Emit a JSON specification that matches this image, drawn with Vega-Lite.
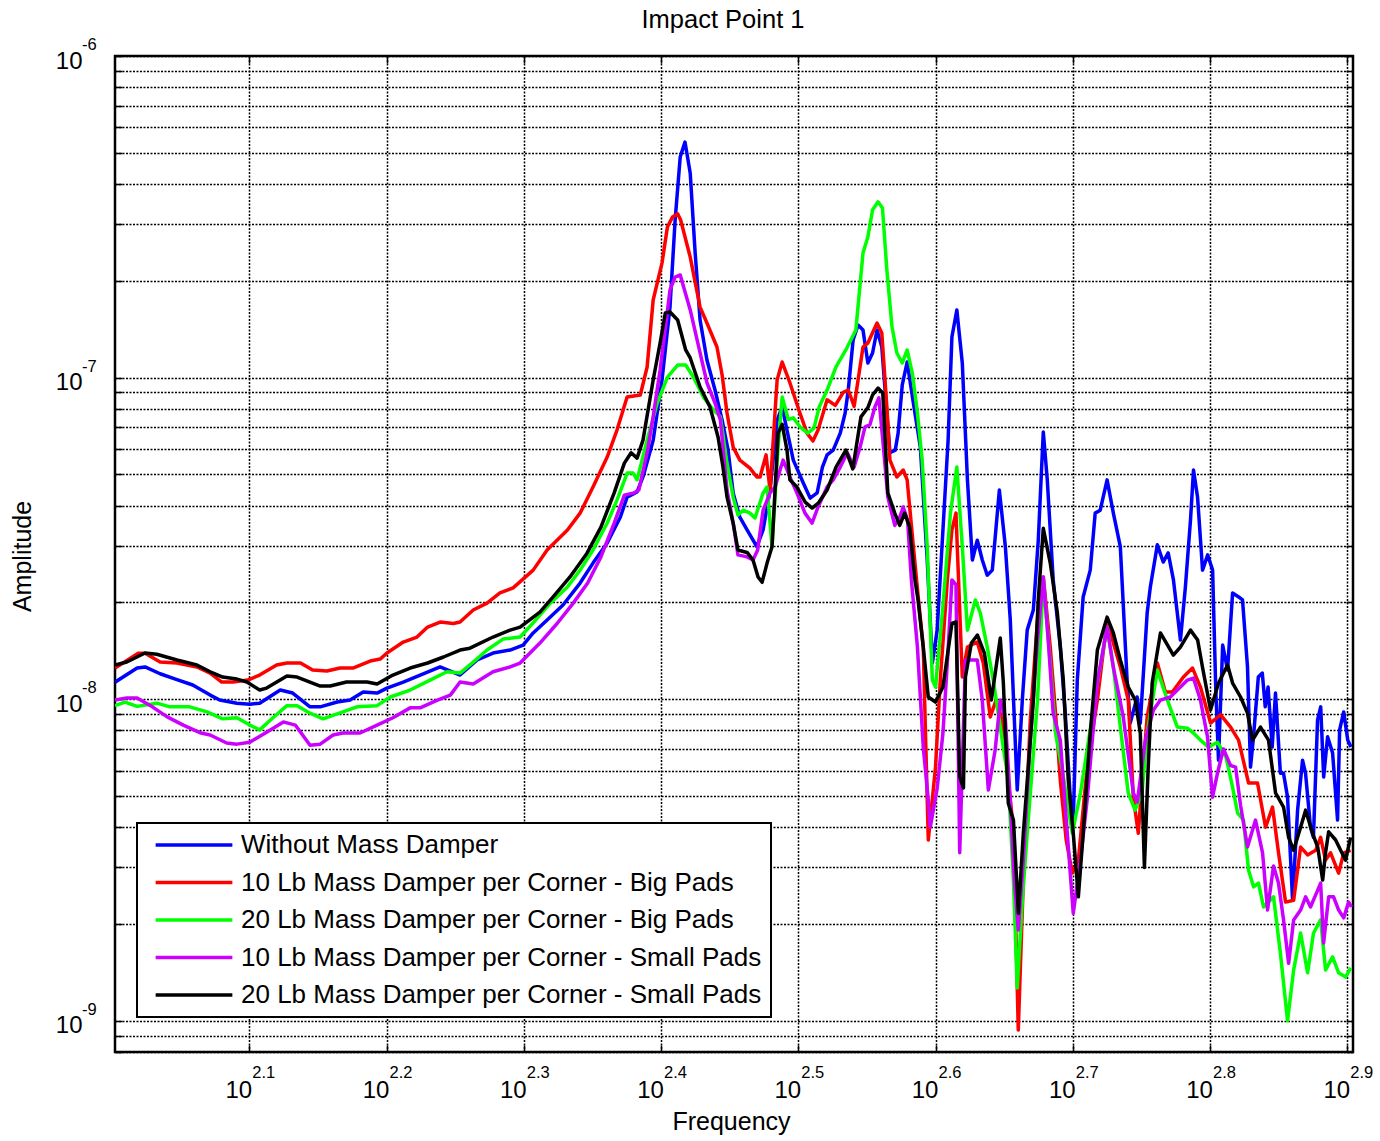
{
"$schema":"https://vega.github.io/schema/vega-lite/v6.json",
"width":1238,"height":996,
"autosize":{"type":"none"},
"padding":{"left":115,"top":56,"right":27,"bottom":89},
"background":"white",
"title":{"text":"Impact Point 1","fontSize":25.5,"font":"Liberation Sans","fontWeight":"normal","color":"black","offset":4,"dx":-11,"frame":"group"},
"config":{"font":"Liberation Sans","view":{"stroke":"black","strokeWidth":2.5},"legend":{"strokeWidth":2}},
"resolve":{"axis":{"x":"independent","y":"independent"}},
"datasets":{
"blue":[{"freq":100.5,"amp":1.13e-8},{"freq":104.3,"amp":1.25e-8},{"freq":105.7,"amp":1.26e-8},{"freq":108.4,"amp":1.2e-8},{"freq":111.5,"amp":1.15e-8},{"freq":114.5,"amp":1.107e-8},{"freq":117.9,"amp":1.03e-8},{"freq":119.8,"amp":9.94e-9},{"freq":123.3,"amp":9.72e-9},{"freq":126,"amp":9.65e-9},{"freq":128.1,"amp":9.72e-9},{"freq":132.6,"amp":1.068e-8},{"freq":135.4,"amp":1.045e-8},{"freq":139.4,"amp":9.47e-9},{"freq":141.8,"amp":9.47e-9},{"freq":145.9,"amp":9.8e-9},{"freq":149.1,"amp":9.94e-9},{"freq":152.4,"amp":1.053e-8},{"freq":156,"amp":1.045e-8},{"freq":158.6,"amp":1.083e-8},{"freq":163,"amp":1.131e-8},{"freq":167.7,"amp":1.189e-8},{"freq":173.4,"amp":1.26e-8},{"freq":179.3,"amp":1.189e-8},{"freq":184.5,"amp":1.324e-8},{"freq":189.5,"amp":1.392e-8},{"freq":195,"amp":1.422e-8},{"freq":199.3,"amp":1.474e-8},{"freq":202.7,"amp":1.607e-8},{"freq":207.5,"amp":1.764e-8},{"freq":213.1,"amp":1.963e-8},{"freq":219.3,"amp":2.297e-8},{"freq":224.1,"amp":2.65e-8},{"freq":229.5,"amp":3.06e-8},{"freq":234.6,"amp":3.68e-8},{"freq":237.3,"amp":4.25e-8},{"freq":241.3,"amp":4.41e-8},{"freq":243.7,"amp":4.91e-8},{"freq":247.9,"amp":6.39e-8},{"freq":251.6,"amp":9.83e-8},{"freq":255,"amp":1.657e-7},{"freq":257.2,"amp":3.09e-7},{"freq":259.4,"amp":4.85e-7},{"freq":261.5,"amp":5.4e-7},{"freq":263.8,"amp":4.32e-7},{"freq":266,"amp":2.44e-7},{"freq":268.2,"amp":1.51e-7},{"freq":271.3,"amp":1.134e-7},{"freq":275,"amp":9.15e-8},{"freq":278.3,"amp":7.38e-8},{"freq":281.1,"amp":5.95e-8},{"freq":283.5,"amp":4.38e-8},{"freq":286.7,"amp":3.68e-8},{"freq":290.2,"amp":3.36e-8},{"freq":295,"amp":2.98e-8},{"freq":298.1,"amp":3.36e-8},{"freq":301.6,"amp":4.47e-8},{"freq":305.2,"amp":7.38e-8},{"freq":307.8,"amp":8.1e-8},{"freq":310.3,"amp":6.87e-8},{"freq":313.6,"amp":5.54e-8},{"freq":318.9,"amp":4.7e-8},{"freq":322.6,"amp":4.22e-8},{"freq":326.4,"amp":4.38e-8},{"freq":329.3,"amp":5.27e-8},{"freq":331.9,"amp":5.75e-8},{"freq":335.3,"amp":5.95e-8},{"freq":339.3,"amp":6.72e-8},{"freq":342.1,"amp":7.76e-8},{"freq":343.9,"amp":9.15e-8},{"freq":346.7,"amp":1.309e-7},{"freq":349.6,"amp":1.457e-7},{"freq":352.5,"amp":1.406e-7},{"freq":355.4,"amp":1.11e-7},{"freq":358.2,"amp":1.193e-7},{"freq":360.9,"amp":1.406e-7},{"freq":363.8,"amp":1.245e-7},{"freq":366.9,"amp":7.76e-8},{"freq":368.8,"amp":5.84e-8},{"freq":372.1,"amp":5.95e-8},{"freq":373.9,"amp":6.72e-8},{"freq":376.5,"amp":9.5e-8},{"freq":379.6,"amp":1.118e-7},{"freq":383.6,"amp":8.33e-8},{"freq":388.1,"amp":6.08e-8},{"freq":392.6,"amp":2.71e-8},{"freq":396,"amp":1.296e-8},{"freq":399.2,"amp":1.64e-8},{"freq":403.1,"amp":3.36e-8},{"freq":406.6,"amp":6.39e-8},{"freq":409.2,"amp":1.338e-7},{"freq":412.6,"amp":1.623e-7},{"freq":416.4,"amp":1.11e-7},{"freq":420,"amp":4.81e-8},{"freq":423.5,"amp":2.71e-8},{"freq":427,"amp":3.12e-8},{"freq":430.6,"amp":2.71e-8},{"freq":434.2,"amp":2.43e-8},{"freq":437.9,"amp":2.52e-8},{"freq":443.1,"amp":4.47e-8},{"freq":447.6,"amp":2.98e-8},{"freq":451.3,"amp":1.764e-8},{"freq":456.6,"amp":5.22e-9},{"freq":460.5,"amp":9.94e-9},{"freq":464.3,"amp":1.64e-8},{"freq":469.1,"amp":1.894e-8},{"freq":473,"amp":3.12e-8},{"freq":477,"amp":6.78e-8},{"freq":480.2,"amp":4.81e-8},{"freq":485,"amp":2.35e-8},{"freq":490.8,"amp":1.453e-8},{"freq":494.9,"amp":9.05e-9},{"freq":499.2,"amp":4.86e-9},{"freq":501.6,"amp":4.21e-9},{"freq":505,"amp":1.147e-8},{"freq":510,"amp":2.08e-8},{"freq":516.1,"amp":2.52e-8},{"freq":520.4,"amp":3.79e-8},{"freq":524.8,"amp":3.87e-8},{"freq":530.9,"amp":4.81e-8},{"freq":536.5,"amp":3.79e-8},{"freq":542.8,"amp":2.98e-8},{"freq":549,"amp":1.147e-8},{"freq":551.9,"amp":8.43e-9},{"freq":558.3,"amp":1.016e-8},{"freq":561.3,"amp":8.43e-9},{"freq":567.8,"amp":1.853e-8},{"freq":570.8,"amp":2.23e-8},{"freq":577.6,"amp":3.02e-8},{"freq":583.3,"amp":2.67e-8},{"freq":588.2,"amp":2.85e-8},{"freq":593.4,"amp":2.35e-8},{"freq":600.4,"amp":1.527e-8},{"freq":605.4,"amp":2.23e-8},{"freq":610.6,"amp":3.6e-8},{"freq":613.7,"amp":5.16e-8},{"freq":617.9,"amp":4.25e-8},{"freq":623.1,"amp":2.52e-8},{"freq":628.5,"amp":2.81e-8},{"freq":633.7,"amp":2.52e-8},{"freq":637,"amp":1.091e-8},{"freq":640,"amp":6.46e-9},{"freq":644.5,"amp":1.474e-8},{"freq":649.8,"amp":1.232e-8},{"freq":655.3,"amp":2.14e-8},{"freq":662,"amp":2.08e-8},{"freq":666.3,"amp":2.035e-8},{"freq":671.9,"amp":1.26e-8},{"freq":675.3,"amp":6.15e-9},{"freq":678.7,"amp":7.64e-9},{"freq":684.2,"amp":1.172e-8},{"freq":688.8,"amp":1.206e-8},{"freq":692.2,"amp":9.47e-9},{"freq":695.5,"amp":1.091e-8},{"freq":700.3,"amp":7.1e-9},{"freq":704.2,"amp":1.045e-8},{"freq":710,"amp":5.89e-9},{"freq":713.7,"amp":5.89e-9},{"freq":718.6,"amp":4.96e-9},{"freq":724.7,"amp":2.37e-9},{"freq":730.8,"amp":4.52e-9},{"freq":736.9,"amp":6.46e-9},{"freq":740.6,"amp":5.89e-9},{"freq":746.8,"amp":4e-9},{"freq":750.5,"amp":3.72e-9},{"freq":755.7,"amp":8.63e-9},{"freq":759.7,"amp":9.47e-9},{"freq":763.5,"amp":5.73e-9},{"freq":768.5,"amp":7.64e-9},{"freq":775,"amp":6.81e-9},{"freq":781.5,"amp":4.21e-9},{"freq":784.2,"amp":8.03e-9},{"freq":789.6,"amp":9.13e-9},{"freq":795,"amp":7.46e-9},{"freq":799.2,"amp":7.1e-9}],
"red":[{"freq":100.5,"amp":1.25e-8},{"freq":104.5,"amp":1.39e-8},{"freq":105.7,"amp":1.39e-8},{"freq":108.4,"amp":1.305e-8},{"freq":111.5,"amp":1.296e-8},{"freq":115.3,"amp":1.26e-8},{"freq":117.9,"amp":1.206e-8},{"freq":120.2,"amp":1.131e-8},{"freq":122.5,"amp":1.131e-8},{"freq":125.6,"amp":1.147e-8},{"freq":128.1,"amp":1.189e-8},{"freq":131.8,"amp":1.277e-8},{"freq":134.1,"amp":1.296e-8},{"freq":137.2,"amp":1.296e-8},{"freq":140,"amp":1.232e-8},{"freq":143.4,"amp":1.224e-8},{"freq":146.6,"amp":1.25e-8},{"freq":149.8,"amp":1.25e-8},{"freq":154.2,"amp":1.314e-8},{"freq":156.8,"amp":1.333e-8},{"freq":158.6,"amp":1.392e-8},{"freq":163,"amp":1.506e-8},{"freq":166.8,"amp":1.561e-8},{"freq":169.8,"amp":1.676e-8},{"freq":173.4,"amp":1.738e-8},{"freq":177.3,"amp":1.72e-8},{"freq":179.3,"amp":1.738e-8},{"freq":183.3,"amp":1.894e-8},{"freq":187.6,"amp":1.99e-8},{"freq":191.7,"amp":2.14e-8},{"freq":196,"amp":2.22e-8},{"freq":202.7,"amp":2.52e-8},{"freq":207.5,"amp":2.91e-8},{"freq":214.7,"amp":3.36e-8},{"freq":219.3,"amp":3.79e-8},{"freq":224.1,"amp":4.57e-8},{"freq":229.5,"amp":5.66e-8},{"freq":233.3,"amp":6.87e-8},{"freq":237.3,"amp":8.7e-8},{"freq":242.6,"amp":8.83e-8},{"freq":245.4,"amp":1.079e-7},{"freq":247.9,"amp":1.743e-7},{"freq":251.6,"amp":2.27e-7},{"freq":253.9,"amp":2.94e-7},{"freq":256.1,"amp":3.16e-7},{"freq":258.3,"amp":3.23e-7},{"freq":259.6,"amp":3.09e-7},{"freq":263.8,"amp":2.37e-7},{"freq":268.2,"amp":1.657e-7},{"freq":271.3,"amp":1.478e-7},{"freq":275.9,"amp":1.245e-7},{"freq":278.3,"amp":1.019e-7},{"freq":280.6,"amp":7.76e-8},{"freq":283.5,"amp":6.08e-8},{"freq":286.7,"amp":5.54e-8},{"freq":291.6,"amp":5.23e-8},{"freq":295,"amp":4.91e-8},{"freq":296.6,"amp":4.91e-8},{"freq":299.6,"amp":5.75e-8},{"freq":301.6,"amp":4.47e-8},{"freq":305.2,"amp":9.83e-8},{"freq":307.8,"amp":1.118e-7},{"freq":311.8,"amp":9.64e-8},{"freq":317.1,"amp":7.76e-8},{"freq":320.9,"amp":6.72e-8},{"freq":324.1,"amp":6.35e-8},{"freq":326.9,"amp":6.87e-8},{"freq":331.9,"amp":8.53e-8},{"freq":336.5,"amp":8.2e-8},{"freq":341,"amp":9e-8},{"freq":343.9,"amp":9.15e-8},{"freq":347.3,"amp":8.14e-8},{"freq":352.5,"amp":1.245e-7},{"freq":355.4,"amp":1.281e-7},{"freq":360.9,"amp":1.478e-7},{"freq":363.8,"amp":1.376e-7},{"freq":366.9,"amp":8.1e-8},{"freq":368.8,"amp":5.54e-8},{"freq":373.1,"amp":4.91e-8},{"freq":377.1,"amp":5.16e-8},{"freq":379.6,"amp":4.81e-8},{"freq":383.6,"amp":2.98e-8},{"freq":386.9,"amp":2.035e-8},{"freq":390,"amp":1.453e-8},{"freq":393.3,"amp":3.65e-9},{"freq":398.1,"amp":6.15e-9},{"freq":401.3,"amp":1.147e-8},{"freq":406.1,"amp":2.35e-8},{"freq":409.2,"amp":3.36e-8},{"freq":412,"amp":3.79e-8},{"freq":416.4,"amp":1.172e-8},{"freq":420,"amp":1.453e-8},{"freq":427,"amp":1.506e-8},{"freq":431.3,"amp":1.296e-8},{"freq":436.4,"amp":8.81e-9},{"freq":440.7,"amp":9.94e-9},{"freq":445.2,"amp":8.63e-9},{"freq":449.8,"amp":5.6e-9},{"freq":453.7,"amp":3.92e-9},{"freq":457.4,"amp":9.36e-10},{"freq":461.3,"amp":2.74e-9},{"freq":466.7,"amp":8.63e-9},{"freq":472.4,"amp":1.764e-8},{"freq":477,"amp":2.4e-8},{"freq":482.6,"amp":1.453e-8},{"freq":486.9,"amp":9.05e-9},{"freq":490.8,"amp":5.6e-9},{"freq":495.7,"amp":3.65e-9},{"freq":500.8,"amp":2.88e-9},{"freq":505.9,"amp":3.16e-9},{"freq":513.4,"amp":6.15e-9},{"freq":522.3,"amp":9.94e-9},{"freq":530.9,"amp":1.764e-8},{"freq":536.5,"amp":1.495e-8},{"freq":542.8,"amp":1.26e-8},{"freq":550.1,"amp":9.94e-9},{"freq":554.8,"amp":4.96e-9},{"freq":559.4,"amp":3.83e-9},{"freq":567.8,"amp":8.81e-9},{"freq":577.6,"amp":1.296e-8},{"freq":585.4,"amp":1.053e-8},{"freq":592.3,"amp":1.053e-8},{"freq":603.4,"amp":1.172e-8},{"freq":612.7,"amp":1.25e-8},{"freq":620.9,"amp":1.091e-8},{"freq":631.5,"amp":8.43e-9},{"freq":642.1,"amp":8.95e-9},{"freq":653.1,"amp":8.19e-9},{"freq":661.9,"amp":7.46e-9},{"freq":673.1,"amp":5.49e-9},{"freq":683.3,"amp":5.49e-9},{"freq":692.6,"amp":4e-9},{"freq":700.7,"amp":4.62e-9},{"freq":707.8,"amp":3.33e-9},{"freq":716.2,"amp":2.34e-9},{"freq":726,"amp":2.37e-9},{"freq":734.5,"amp":3.47e-9},{"freq":743.2,"amp":3.28e-9},{"freq":753.3,"amp":3.39e-9},{"freq":759.6,"amp":3.72e-9},{"freq":765.9,"amp":3.16e-9},{"freq":772.4,"amp":3.33e-9},{"freq":782.9,"amp":2.88e-9},{"freq":789.6,"amp":3.33e-9},{"freq":798.8,"amp":3.39e-9}],
"green":[{"freq":100.5,"amp":9.55e-9},{"freq":102.2,"amp":9.8e-9},{"freq":104.3,"amp":9.5e-9},{"freq":107.8,"amp":9.72e-9},{"freq":110.2,"amp":9.47e-9},{"freq":113.9,"amp":9.47e-9},{"freq":117.3,"amp":9.13e-9},{"freq":120.4,"amp":8.69e-9},{"freq":123.3,"amp":8.76e-9},{"freq":126,"amp":8.31e-9},{"freq":128.1,"amp":8.03e-9},{"freq":131,"amp":8.76e-9},{"freq":134.1,"amp":9.55e-9},{"freq":136.4,"amp":9.55e-9},{"freq":139.4,"amp":9.05e-9},{"freq":142.5,"amp":8.69e-9},{"freq":147.3,"amp":9.13e-9},{"freq":150.8,"amp":9.47e-9},{"freq":156,"amp":9.55e-9},{"freq":159.5,"amp":1.016e-8},{"freq":164.9,"amp":1.068e-8},{"freq":170.5,"amp":1.147e-8},{"freq":175.4,"amp":1.217e-8},{"freq":179.3,"amp":1.206e-8},{"freq":183.3,"amp":1.305e-8},{"freq":187.6,"amp":1.422e-8},{"freq":192.7,"amp":1.538e-8},{"freq":198.3,"amp":1.561e-8},{"freq":202.7,"amp":1.727e-8},{"freq":208.6,"amp":1.99e-8},{"freq":214.6,"amp":2.23e-8},{"freq":219.3,"amp":2.52e-8},{"freq":224.1,"amp":2.91e-8},{"freq":229.5,"amp":3.53e-8},{"freq":233.3,"amp":4.16e-8},{"freq":237.3,"amp":5.05e-8},{"freq":239.7,"amp":5.05e-8},{"freq":241.3,"amp":4.81e-8},{"freq":245.4,"amp":6.39e-8},{"freq":249.6,"amp":8.33e-8},{"freq":253.9,"amp":1.004e-7},{"freq":258.3,"amp":1.094e-7},{"freq":261.8,"amp":1.094e-7},{"freq":265.2,"amp":1.004e-7},{"freq":269.7,"amp":8.7e-8},{"freq":274.3,"amp":7.93e-8},{"freq":277.5,"amp":7.55e-8},{"freq":280.6,"amp":5.42e-8},{"freq":283.5,"amp":4.25e-8},{"freq":285.8,"amp":3.74e-8},{"freq":288.3,"amp":3.87e-8},{"freq":291.6,"amp":3.79e-8},{"freq":294.1,"amp":3.66e-8},{"freq":298.1,"amp":4.38e-8},{"freq":300.1,"amp":4.57e-8},{"freq":302.6,"amp":2.98e-8},{"freq":305.7,"amp":6.08e-8},{"freq":307.8,"amp":8.7e-8},{"freq":311,"amp":7.41e-8},{"freq":313.6,"amp":7.5e-8},{"freq":317.1,"amp":7.03e-8},{"freq":321.3,"amp":6.72e-8},{"freq":324.7,"amp":6.97e-8},{"freq":327.5,"amp":8.1e-8},{"freq":331.9,"amp":9.15e-8},{"freq":336.9,"amp":1.079e-7},{"freq":342.5,"amp":1.219e-7},{"freq":348.3,"amp":1.406e-7},{"freq":352.5,"amp":2.44e-7},{"freq":355.4,"amp":2.74e-7},{"freq":358.2,"amp":3.32e-7},{"freq":361.5,"amp":3.52e-7},{"freq":364.2,"amp":3.37e-7},{"freq":366.9,"amp":2.16e-7},{"freq":370.1,"amp":1.437e-7},{"freq":373.1,"amp":1.193e-7},{"freq":376.5,"amp":1.11e-7},{"freq":379.6,"amp":1.219e-7},{"freq":382.9,"amp":1.033e-7},{"freq":386.2,"amp":7.76e-8},{"freq":389.3,"amp":5.54e-8},{"freq":392.6,"amp":2.98e-8},{"freq":396,"amp":1.147e-8},{"freq":398.1,"amp":1.091e-8},{"freq":402.7,"amp":1.853e-8},{"freq":408.2,"amp":3.79e-8},{"freq":412.6,"amp":5.27e-8},{"freq":416.4,"amp":2.98e-8},{"freq":420,"amp":1.64e-8},{"freq":425.6,"amp":2.035e-8},{"freq":429.2,"amp":1.853e-8},{"freq":434.2,"amp":1.453e-8},{"freq":438.6,"amp":1.147e-8},{"freq":446,"amp":7.1e-9},{"freq":449.8,"amp":5.6e-9},{"freq":453.7,"amp":2.74e-9},{"freq":456.6,"amp":1.265e-9},{"freq":460.5,"amp":2.37e-9},{"freq":464.3,"amp":3.83e-9},{"freq":472.4,"amp":9.94e-9},{"freq":477,"amp":2.35e-8},{"freq":482.6,"amp":1.296e-8},{"freq":486.9,"amp":7.85e-9},{"freq":492.4,"amp":6.03e-9},{"freq":500.8,"amp":3.83e-9},{"freq":507.7,"amp":5.11e-9},{"freq":513.4,"amp":6.95e-9},{"freq":522.3,"amp":1.123e-8},{"freq":530.9,"amp":1.676e-8},{"freq":536.5,"amp":1.26e-8},{"freq":542.8,"amp":8.19e-9},{"freq":550.1,"amp":5.11e-9},{"freq":556.4,"amp":4.52e-9},{"freq":562.9,"amp":5.11e-9},{"freq":567.8,"amp":7.85e-9},{"freq":577.6,"amp":1.232e-8},{"freq":587.4,"amp":9.94e-9},{"freq":597.3,"amp":8.19e-9},{"freq":607.5,"amp":8.13e-9},{"freq":613.7,"amp":7.85e-9},{"freq":620.9,"amp":7.46e-9},{"freq":629.4,"amp":7.1e-9},{"freq":638.9,"amp":7.35e-9},{"freq":648.1,"amp":6.61e-9},{"freq":655.3,"amp":5.33e-9},{"freq":660.8,"amp":4.43e-9},{"freq":667.4,"amp":4.21e-9},{"freq":673.1,"amp":2.94e-9},{"freq":678.8,"amp":2.61e-9},{"freq":684.4,"amp":2.68e-9},{"freq":690.2,"amp":2.26e-9},{"freq":701.9,"amp":2.43e-9},{"freq":710,"amp":1.625e-9},{"freq":718.6,"amp":1e-9},{"freq":726,"amp":1.44e-9},{"freq":734.5,"amp":1.875e-9},{"freq":743.2,"amp":1.41e-9},{"freq":750.6,"amp":1.875e-9},{"freq":759.6,"amp":2.06e-9},{"freq":765.9,"amp":1.44e-9},{"freq":775,"amp":1.58e-9},{"freq":782.9,"amp":1.41e-9},{"freq":792.1,"amp":1.368e-9},{"freq":799,"amp":1.46e-9}],
"magenta":[{"freq":100.5,"amp":9.94e-9},{"freq":102.5,"amp":1.009e-8},{"freq":104.3,"amp":1.009e-8},{"freq":107,"amp":9.47e-9},{"freq":109.7,"amp":8.81e-9},{"freq":112.7,"amp":8.31e-9},{"freq":116.1,"amp":7.85e-9},{"freq":117.9,"amp":7.74e-9},{"freq":121.2,"amp":7.31e-9},{"freq":123.3,"amp":7.25e-9},{"freq":126,"amp":7.35e-9},{"freq":129.7,"amp":7.91e-9},{"freq":133.3,"amp":8.5e-9},{"freq":136,"amp":8.31e-9},{"freq":139.4,"amp":7.19e-9},{"freq":141.8,"amp":7.25e-9},{"freq":144.9,"amp":7.74e-9},{"freq":147.3,"amp":7.85e-9},{"freq":151.6,"amp":7.85e-9},{"freq":156,"amp":8.31e-9},{"freq":160.2,"amp":8.76e-9},{"freq":164.9,"amp":9.4e-9},{"freq":167.7,"amp":9.4e-9},{"freq":172.6,"amp":9.94e-9},{"freq":176.4,"amp":1.03e-8},{"freq":179.3,"amp":1.131e-8},{"freq":183.3,"amp":1.115e-8},{"freq":189.5,"amp":1.217e-8},{"freq":195,"amp":1.26e-8},{"freq":198.3,"amp":1.296e-8},{"freq":205,"amp":1.495e-8},{"freq":211,"amp":1.72e-8},{"freq":216.8,"amp":1.99e-8},{"freq":222.1,"amp":2.297e-8},{"freq":227.1,"amp":2.77e-8},{"freq":232.2,"amp":3.53e-8},{"freq":236.2,"amp":4.31e-8},{"freq":240,"amp":4.38e-8},{"freq":242,"amp":4.47e-8},{"freq":245.4,"amp":5.84e-8},{"freq":247.9,"amp":7.55e-8},{"freq":250.8,"amp":1.056e-7},{"freq":255,"amp":1.873e-7},{"freq":257.2,"amp":2.055e-7},{"freq":259.4,"amp":2.085e-7},{"freq":263.8,"amp":1.623e-7},{"freq":268.2,"amp":1.193e-7},{"freq":271.3,"amp":9.64e-8},{"freq":275,"amp":8.33e-8},{"freq":277.5,"amp":7.38e-8},{"freq":280.6,"amp":4.47e-8},{"freq":283.5,"amp":3.53e-8},{"freq":285.8,"amp":2.81e-8},{"freq":290.2,"amp":2.77e-8},{"freq":293.1,"amp":2.71e-8},{"freq":295.4,"amp":2.91e-8},{"freq":298.1,"amp":3.87e-8},{"freq":301.6,"amp":4.38e-8},{"freq":304.2,"amp":4.57e-8},{"freq":306.7,"amp":5.16e-8},{"freq":308.3,"amp":5.54e-8},{"freq":311.8,"amp":4.91e-8},{"freq":315.5,"amp":4.38e-8},{"freq":319.8,"amp":3.79e-8},{"freq":323.6,"amp":3.53e-8},{"freq":326.9,"amp":3.96e-8},{"freq":331.9,"amp":4.57e-8},{"freq":335.3,"amp":4.81e-8},{"freq":339.3,"amp":5.27e-8},{"freq":343.3,"amp":5.84e-8},{"freq":347.3,"amp":5.27e-8},{"freq":350.8,"amp":6.08e-8},{"freq":353.7,"amp":7.03e-8},{"freq":356.6,"amp":7.13e-8},{"freq":359.6,"amp":8.1e-8},{"freq":362,"amp":8.65e-8},{"freq":364.4,"amp":6.39e-8},{"freq":367.5,"amp":4.25e-8},{"freq":371.8,"amp":3.47e-8},{"freq":374.9,"amp":3.68e-8},{"freq":377.1,"amp":3.96e-8},{"freq":379.9,"amp":3.6e-8},{"freq":382.3,"amp":2.35e-8},{"freq":386.2,"amp":1.453e-8},{"freq":390,"amp":7.1e-9},{"freq":393.3,"amp":4.86e-9},{"freq":394.6,"amp":4e-9},{"freq":399.2,"amp":5.27e-9},{"freq":403.1,"amp":7.85e-9},{"freq":406.6,"amp":1.422e-8},{"freq":409.2,"amp":2.35e-8},{"freq":412,"amp":2.27e-8},{"freq":414.6,"amp":3.33e-9},{"freq":418.6,"amp":1.324e-8},{"freq":427,"amp":1.324e-8},{"freq":430.6,"amp":9.94e-9},{"freq":435,"amp":5.22e-9},{"freq":440,"amp":6.95e-9},{"freq":443.8,"amp":9.94e-9},{"freq":447.6,"amp":8.63e-9},{"freq":451.3,"amp":4.86e-9},{"freq":454.4,"amp":2.74e-9},{"freq":457.4,"amp":1.917e-9},{"freq":461.3,"amp":3.16e-9},{"freq":466.7,"amp":7.46e-9},{"freq":472.4,"amp":1.527e-8},{"freq":477,"amp":2.4e-8},{"freq":481,"amp":1.527e-8},{"freq":485,"amp":9.05e-9},{"freq":490.8,"amp":7.46e-9},{"freq":496.6,"amp":3.83e-9},{"freq":501.6,"amp":2.16e-9},{"freq":507.7,"amp":3.16e-9},{"freq":513.4,"amp":4.86e-9},{"freq":522.2,"amp":1.123e-8},{"freq":530.9,"amp":1.676e-8},{"freq":536.4,"amp":1.26e-8},{"freq":545.5,"amp":8.81e-9},{"freq":554.8,"amp":5.11e-9},{"freq":558.5,"amp":4.79e-9},{"freq":566.1,"amp":7.46e-9},{"freq":573.8,"amp":9.26e-9},{"freq":580.6,"amp":9.94e-9},{"freq":590.3,"amp":1.016e-8},{"freq":600.4,"amp":1.091e-8},{"freq":607.5,"amp":1.147e-8},{"freq":613.7,"amp":1.163e-8},{"freq":620.9,"amp":9.94e-9},{"freq":628.3,"amp":7.64e-9},{"freq":633.6,"amp":4.96e-9},{"freq":638.9,"amp":5.89e-9},{"freq":645.3,"amp":7e-9},{"freq":653.1,"amp":6.22e-9},{"freq":658.6,"amp":6.15e-9},{"freq":664.1,"amp":4.68e-9},{"freq":671.9,"amp":3.47e-9},{"freq":681,"amp":4.21e-9},{"freq":689.1,"amp":3.33e-9},{"freq":694.9,"amp":2.21e-9},{"freq":701.9,"amp":3.03e-9},{"freq":707.8,"amp":2.68e-9},{"freq":713.8,"amp":2.06e-9},{"freq":719.9,"amp":1.51e-9},{"freq":726,"amp":2.06e-9},{"freq":734.5,"amp":2.21e-9},{"freq":740.7,"amp":2.43e-9},{"freq":746.8,"amp":2.26e-9},{"freq":755.9,"amp":2.55e-9},{"freq":759.6,"amp":2.68e-9},{"freq":763.4,"amp":1.746e-9},{"freq":769.9,"amp":2.43e-9},{"freq":776.3,"amp":2.43e-9},{"freq":782.9,"amp":2.21e-9},{"freq":789.6,"amp":2.09e-9},{"freq":796.1,"amp":2.34e-9},{"freq":800,"amp":2.26e-9}],
"black":[{"freq":100.5,"amp":1.277e-8},{"freq":102.5,"amp":1.305e-8},{"freq":105.7,"amp":1.392e-8},{"freq":107.8,"amp":1.38e-8},{"freq":111.5,"amp":1.324e-8},{"freq":115.3,"amp":1.277e-8},{"freq":117.9,"amp":1.217e-8},{"freq":120.4,"amp":1.172e-8},{"freq":123.3,"amp":1.155e-8},{"freq":125.4,"amp":1.131e-8},{"freq":128.1,"amp":1.068e-8},{"freq":129.6,"amp":1.083e-8},{"freq":134.1,"amp":1.18e-8},{"freq":136.4,"amp":1.172e-8},{"freq":141.8,"amp":1.099e-8},{"freq":144.2,"amp":1.099e-8},{"freq":148.2,"amp":1.131e-8},{"freq":153.4,"amp":1.131e-8},{"freq":156,"amp":1.115e-8},{"freq":160.2,"amp":1.189e-8},{"freq":164.9,"amp":1.25e-8},{"freq":169.8,"amp":1.296e-8},{"freq":174.4,"amp":1.353e-8},{"freq":179.3,"amp":1.422e-8},{"freq":182.3,"amp":1.441e-8},{"freq":189.5,"amp":1.561e-8},{"freq":195,"amp":1.64e-8},{"freq":198.3,"amp":1.676e-8},{"freq":205,"amp":1.866e-8},{"freq":209.6,"amp":2.08e-8},{"freq":215.6,"amp":2.4e-8},{"freq":221.8,"amp":2.84e-8},{"freq":227.1,"amp":3.43e-8},{"freq":232.2,"amp":4.38e-8},{"freq":236.2,"amp":5.42e-8},{"freq":238.9,"amp":5.84e-8},{"freq":241.3,"amp":5.62e-8},{"freq":243.7,"amp":6.39e-8},{"freq":247.9,"amp":9.83e-8},{"freq":250.8,"amp":1.281e-7},{"freq":253,"amp":1.588e-7},{"freq":255,"amp":1.6e-7},{"freq":258.3,"amp":1.51e-7},{"freq":261.8,"amp":1.219e-7},{"freq":263.8,"amp":1.151e-7},{"freq":268.2,"amp":9.35e-8},{"freq":272.7,"amp":8.1e-8},{"freq":276.4,"amp":6.54e-8},{"freq":278.7,"amp":5.27e-8},{"freq":280.6,"amp":4.25e-8},{"freq":283.5,"amp":3.53e-8},{"freq":285.8,"amp":2.91e-8},{"freq":290.2,"amp":2.86e-8},{"freq":293.1,"amp":2.71e-8},{"freq":295.6,"amp":2.4e-8},{"freq":297.6,"amp":2.31e-8},{"freq":300.1,"amp":2.65e-8},{"freq":302.6,"amp":2.98e-8},{"freq":305.7,"amp":6.72e-8},{"freq":307.8,"amp":7.16e-8},{"freq":310.3,"amp":5.95e-8},{"freq":311.8,"amp":4.81e-8},{"freq":315.5,"amp":4.57e-8},{"freq":319.9,"amp":4.1e-8},{"freq":323.7,"amp":3.93e-8},{"freq":327,"amp":4.07e-8},{"freq":331.9,"amp":4.47e-8},{"freq":336.9,"amp":5.27e-8},{"freq":342.5,"amp":5.95e-8},{"freq":346.5,"amp":5.2e-8},{"freq":351.3,"amp":7.55e-8},{"freq":355.4,"amp":8.07e-8},{"freq":358.2,"amp":8.83e-8},{"freq":361.5,"amp":9.28e-8},{"freq":364.4,"amp":8.96e-8},{"freq":367.5,"amp":4.38e-8},{"freq":371.8,"amp":3.79e-8},{"freq":374.9,"amp":3.47e-8},{"freq":378,"amp":3.79e-8},{"freq":381.2,"amp":3.43e-8},{"freq":384.6,"amp":2.35e-8},{"freq":386.6,"amp":2.035e-8},{"freq":390,"amp":1.453e-8},{"freq":393.3,"amp":1.016e-8},{"freq":398.1,"amp":9.8e-9},{"freq":403.1,"amp":1.091e-8},{"freq":409.2,"amp":1.72e-8},{"freq":412,"amp":1.738e-8},{"freq":414.6,"amp":5.73e-9},{"freq":417.2,"amp":5.3e-9},{"freq":418.6,"amp":1.172e-8},{"freq":422.8,"amp":1.495e-8},{"freq":427.1,"amp":1.583e-8},{"freq":432.1,"amp":1.392e-8},{"freq":437.2,"amp":9.94e-9},{"freq":443.8,"amp":1.55e-8},{"freq":446.1,"amp":1.123e-8},{"freq":449.8,"amp":4.75e-9},{"freq":453.7,"amp":4.21e-9},{"freq":457.5,"amp":2.16e-9},{"freq":461.3,"amp":3.83e-9},{"freq":469.1,"amp":9.94e-9},{"freq":473,"amp":2.035e-8},{"freq":477,"amp":3.4e-8},{"freq":482.6,"amp":2.65e-8},{"freq":488.4,"amp":1.853e-8},{"freq":493.3,"amp":1.147e-8},{"freq":497.4,"amp":5.6e-9},{"freq":501.6,"amp":3.83e-9},{"freq":505.9,"amp":2.43e-9},{"freq":510,"amp":3.83e-9},{"freq":516.1,"amp":7.85e-9},{"freq":522.3,"amp":1.422e-8},{"freq":530.9,"amp":1.8e-8},{"freq":536.5,"amp":1.607e-8},{"freq":542.8,"amp":1.324e-8},{"freq":550.1,"amp":1.091e-8},{"freq":556.6,"amp":9.94e-9},{"freq":561.3,"amp":7.85e-9},{"freq":565.2,"amp":3e-9},{"freq":568.8,"amp":6.15e-9},{"freq":572.6,"amp":1.123e-8},{"freq":580.6,"amp":1.607e-8},{"freq":593.3,"amp":1.372e-8},{"freq":600.4,"amp":1.453e-8},{"freq":610.6,"amp":1.64e-8},{"freq":618,"amp":1.527e-8},{"freq":623,"amp":1.26e-8},{"freq":631.5,"amp":9.26e-9},{"freq":640,"amp":1.123e-8},{"freq":649.8,"amp":1.277e-8},{"freq":655.3,"amp":1.123e-8},{"freq":664.1,"amp":1.016e-8},{"freq":671.9,"amp":9.05e-9},{"freq":677.6,"amp":7.46e-9},{"freq":686.7,"amp":8.19e-9},{"freq":696,"amp":7.46e-9},{"freq":704.3,"amp":5.11e-9},{"freq":713.8,"amp":4.62e-9},{"freq":719.9,"amp":3.72e-9},{"freq":726,"amp":3.39e-9},{"freq":734.5,"amp":4e-9},{"freq":740.7,"amp":4.52e-9},{"freq":749.4,"amp":3.83e-9},{"freq":755.9,"amp":3.47e-9},{"freq":762.2,"amp":2.74e-9},{"freq":765.9,"amp":3.33e-9},{"freq":769.9,"amp":3.87e-9},{"freq":779,"amp":3.65e-9},{"freq":785.5,"amp":3.39e-9},{"freq":792.1,"amp":3.16e-9},{"freq":798.8,"amp":3.72e-9}],
"xexp":[{"tick":125.89,"label":"2.1"},{"tick":158.49,"label":"2.2"},{"tick":199.53,"label":"2.3"},{"tick":251.19,"label":"2.4"},{"tick":316.23,"label":"2.5"},{"tick":398.11,"label":"2.6"},{"tick":501.19,"label":"2.7"},{"tick":630.96,"label":"2.8"},{"tick":794.33,"label":"2.9"}],
"yexp":[{"tick":1e-6,"label":"-6"},{"tick":1e-7,"label":"-7"},{"tick":1e-8,"label":"-8"},{"tick":1e-9,"label":"-9"}]
},
"layer":[
{"data":{"name":"blue"},"mark":{"type":"line","strokeWidth":3.5,"clip":true,"strokeJoin":"round"},
"encoding":{
"x":{"field":"freq","type":"quantitative","scale":{"type":"log","domain":[100.5,802],"nice":false},
"axis":{"orient":"bottom","values":[125.89,158.49,199.53,251.19,316.23,398.11,501.19,630.96,794.33],"labelExpr":"'10'","labelFontSize":24,"labelColor":"black","labelBaseline":"alphabetic","labelAlign":"center","labelOffset":-11,"labelPadding":52,"labelFlush":false,"labelOverlap":false,"tickSize":-7,"tickColor":"black","tickWidth":1.5,"domain":false,"grid":true,"gridColor":"black","gridDash":[2,1.5],"gridWidth":1.5,"gridOpacity":1,"title":"Frequency","titleFontSize":25,"titleFontWeight":"normal","titleColor":"black","titleX":616,"titleY":77,"titleBaseline":"alphabetic","titleAlign":"center"}},
"y":{"field":"amp","type":"quantitative","scale":{"type":"log","domain":[8e-10,1e-6],"nice":false},
"axis":{"orient":"left","values":[8e-10,9e-10,1e-9,2e-9,3e-9,4e-9,5e-9,6e-9,7e-9,8e-9,9e-9,1e-8,2e-8,3e-8,4e-8,5e-8,6e-8,7e-8,8e-8,9e-8,1e-7,2e-7,3e-7,4e-7,5e-7,6e-7,7e-7,8e-7,9e-7,1e-6],"labelExpr":"abs(log(datum.value)/LN10 - round(log(datum.value)/LN10)) < 0.01 ? '10' : ''","labelFontSize":24,"labelColor":"black","labelAlign":"right","labelBaseline":"alphabetic","labelOffset":12,"labelPadding":40,"labelOverlap":false,"labelFlush":false,"tickSize":-7,"tickColor":"black","tickWidth":1.5,"domain":false,"grid":true,"gridColor":"black","gridDash":[2,1.5],"gridWidth":1.5,"gridOpacity":1,"title":"Amplitude","titleFontSize":25,"titleFontWeight":"normal","titleColor":"black","titleX":-85,"titleY":500,"titleAngle":-90,"titleBaseline":"alphabetic","titleAlign":"center"}},
"color":{"datum":"Without Mass Damper","scale":{"domain":["Without Mass Damper","10 Lb Mass Damper per Corner - Big Pads","20 Lb Mass Damper per Corner - Big Pads","10 Lb Mass Damper per Corner - Small Pads","20 Lb Mass Damper per Corner - Small Pads"],"range":["#0000FF","#FF0000","#00FF00","#CC00FF","#000000"]},
"legend":{"orient":"none","legendX":22,"legendY":767,"title":null,"labelFontSize":26,"labelColor":"black","labelFont":"Liberation Sans","labelLimit":0,"symbolType":"M-8,0H8","symbolSize":92,"symbolStrokeWidth":3.5,"symbolOffset":35,"labelOffset":34,"rowPadding":11.5,"padding":9,"strokeColor":"black","fillColor":"white"}}
}},
{"data":{"name":"red"},"mark":{"type":"line","strokeWidth":3.5,"clip":true,"strokeJoin":"round"},
"encoding":{
"x":{"field":"freq","type":"quantitative","axis":{"orient":"top","values":[125.89,158.49,199.53,251.19,316.23,398.11,501.19,630.96,794.33],"labels":false,"tickSize":-7,"tickColor":"black","tickWidth":1.5,"domain":false,"grid":false,"title":null}},
"y":{"field":"amp","type":"quantitative","axis":{"orient":"right","values":[8e-10,9e-10,1e-9,2e-9,3e-9,4e-9,5e-9,6e-9,7e-9,8e-9,9e-9,1e-8,2e-8,3e-8,4e-8,5e-8,6e-8,7e-8,8e-8,9e-8,1e-7,2e-7,3e-7,4e-7,5e-7,6e-7,7e-7,8e-7,9e-7,1e-6],"labels":false,"tickSize":-7,"tickColor":"black","tickWidth":1.5,"domain":false,"grid":false,"title":null}},
"color":{"datum":"10 Lb Mass Damper per Corner - Big Pads"}
}},
{"data":{"name":"green"},"mark":{"type":"line","strokeWidth":3.5,"clip":true,"strokeJoin":"round"},
"encoding":{"x":{"field":"freq","type":"quantitative","axis":null},"y":{"field":"amp","type":"quantitative","axis":null},"color":{"datum":"20 Lb Mass Damper per Corner - Big Pads"}}},
{"data":{"name":"magenta"},"mark":{"type":"line","strokeWidth":3.5,"clip":true,"strokeJoin":"round"},
"encoding":{"x":{"field":"freq","type":"quantitative","axis":null},"y":{"field":"amp","type":"quantitative","axis":null},"color":{"datum":"10 Lb Mass Damper per Corner - Small Pads"}}},
{"data":{"name":"black"},"mark":{"type":"line","strokeWidth":3.5,"clip":true,"strokeJoin":"round"},
"encoding":{"x":{"field":"freq","type":"quantitative","axis":null},"y":{"field":"amp","type":"quantitative","axis":null},"color":{"datum":"20 Lb Mass Damper per Corner - Small Pads"}}},
{"data":{"name":"xexp"},"mark":{"type":"text","align":"left","baseline":"alphabetic","fontSize":16.5,"font":"Liberation Sans","color":"black","dx":3,"dy":26},
"encoding":{"x":{"field":"tick","type":"quantitative","axis":null},"y":{"datum":8e-10,"axis":null},"text":{"field":"label"}}},
{"data":{"name":"yexp"},"mark":{"type":"text","align":"left","baseline":"alphabetic","fontSize":16.5,"font":"Liberation Sans","color":"black","dx":-33,"dy":-6},
"encoding":{"x":{"datum":100.5,"axis":null},"y":{"field":"tick","type":"quantitative","axis":null},"text":{"field":"label"}}}
]
}
